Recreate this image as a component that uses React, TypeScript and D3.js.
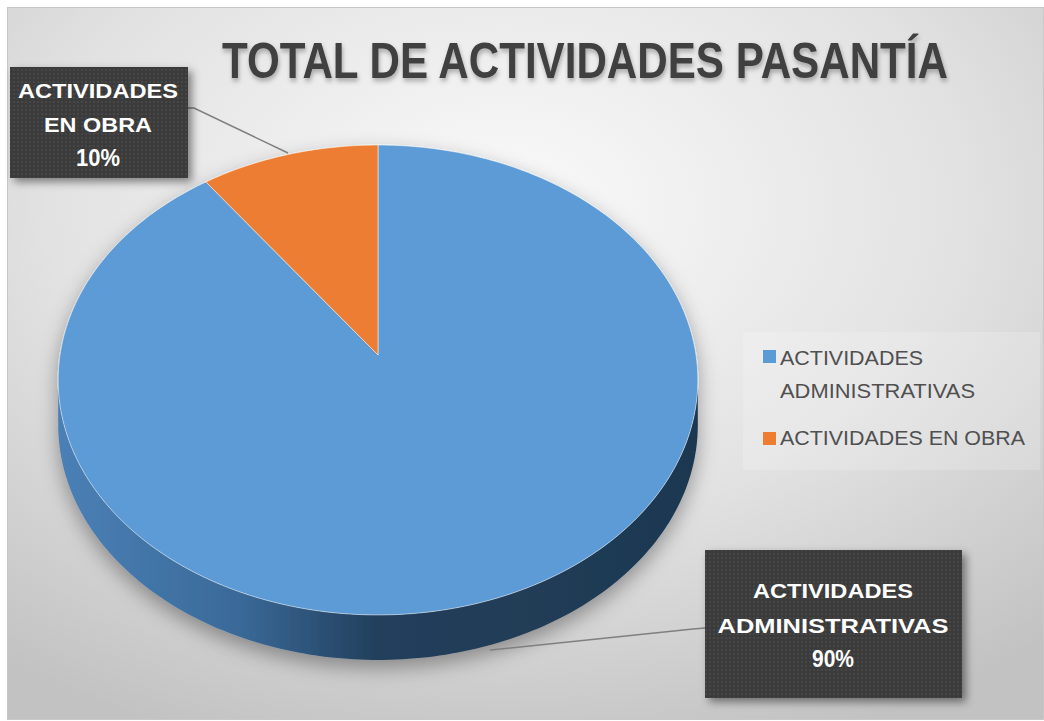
import React from "react";
import * as d3 from "d3";

const categories = ["ACTIVIDADES ADMINISTRATIVAS", "ACTIVIDADES EN OBRA"];
const values = [90, 10];
const colors = ["#5B9BD5", "#ED7D31"];
const labelLines = [
  ["ACTIVIDADES", "ADMINISTRATIVAS", "90%"],
  ["ACTIVIDADES", "EN OBRA", "10%"],
];
const legendLines = [["ACTIVIDADES", "ADMINISTRATIVAS"], ["ACTIVIDADES EN OBRA"]];
const title = "TOTAL DE ACTIVIDADES PASANTÍA";

const W = 1044;
const H = 721;
const CX = 378;
const CY = 355;
const A = 318;
const B = 232.3;
const K = 0.1064;
const DEPTH = 45;

function proj(angle: number): [number, number] {
  const u = Math.sin(angle);
  const v = -Math.cos(angle);
  const w = 1 - K * v;
  return [CX + (A * u) / w, CY + (B * v) / w];
}

function slicePath(a0: number, a1: number): string {
  const p = d3.path();
  p.moveTo(CX, CY);
  const n = Math.max(4, Math.ceil(((a1 - a0) / (2 * Math.PI)) * 360));
  for (let i = 0; i <= n; i++) {
    const [x, y] = proj(a0 + ((a1 - a0) * i) / n);
    p.lineTo(x, y);
  }
  p.closePath();
  return p.toString();
}

function sidePath(): string {
  const pts: [number, number][] = [];
  for (let i = 0; i <= 360; i++) pts.push(proj((i / 360) * 2 * Math.PI));
  let minI = 0;
  let maxI = 0;
  pts.forEach((q, i) => {
    if (q[0] < pts[minI][0]) minI = i;
    if (q[0] > pts[maxI][0]) maxI = i;
  });
  const p = d3.path();
  const front: [number, number][] = [];
  for (let i = maxI; i <= minI; i++) front.push(pts[i]);
  p.moveTo(front[0][0], front[0][1]);
  front.forEach((q) => p.lineTo(q[0], q[1]));
  for (let i = front.length - 1; i >= 0; i--) p.lineTo(front[i][0], front[i][1] + DEPTH);
  p.closePath();
  return p.toString();
}

const pie = d3
  .pie<number>()
  .sort(null)
  .startAngle(0)
  .endAngle(2 * Math.PI);

export default function App() {
  const arcs = pie(values);
  const font = "'Liberation Sans', Arial, sans-serif";

  const boxes = [
    { x: 705, y: 550, w: 257, h: 148, cx: 833, base: [598, 633, 667], widths: [160, 231, 42], leader: [[705, 628], [693, 629], [490, 650]] },
    { x: 10, y: 67, w: 178, h: 111, cx: 98, base: [98, 132, 166], widths: [160, 108, 44], leader: [[188, 108], [194, 108], [288, 153]] },
  ];

  const legendY = [[365, 398], [445]];
  const legendW = [[143, 195], [245]];
  const legendSq = [350, 432];

  return (
    <svg width={W} height={H} style={{ position: "absolute", left: 0, top: 0 }} fontFamily={font}>
      <defs>
        <radialGradient id="bg" cx="48%" cy="28%" r="80%">
          <stop offset="0%" stopColor="#fafafa" />
          <stop offset="55%" stopColor="#e2e2e2" />
          <stop offset="100%" stopColor="#c2c2c2" />
        </radialGradient>
        <linearGradient id="side" x1="0" x2="1" y1="0" y2="0">
          <stop offset="0%" stopColor="#4b80b6" />
          <stop offset="28%" stopColor="#3a6a99" />
          <stop offset="50%" stopColor="#223f5c" />
          <stop offset="100%" stopColor="#1e3851" />
        </linearGradient>
        <pattern id="dots" width="4" height="4" patternUnits="userSpaceOnUse">
          <rect width="4" height="4" fill="#3b3b3b" />
          <circle cx="2" cy="2" r="1" fill="#4a4a4a" />
        </pattern>
        <filter id="pieShadow" x="-20%" y="-20%" width="140%" height="140%">
          <feDropShadow dx="0" dy="8" stdDeviation="10" floodColor="#000" floodOpacity="0.35" />
        </filter>
        <filter id="boxShadow" x="-20%" y="-20%" width="140%" height="140%">
          <feDropShadow dx="4" dy="4" stdDeviation="4" floodColor="#000" floodOpacity="0.45" />
        </filter>
        <filter id="titleShadow" x="-10%" y="-30%" width="120%" height="170%">
          <feDropShadow dx="1" dy="2.5" stdDeviation="2" floodColor="#000" floodOpacity="0.3" />
        </filter>
      </defs>

      <rect x={0} y={0} width={W} height={H} fill="#ffffff" />
      <rect x={7} y={7} width={W - 7} height={H - 8} fill="url(#bg)" />
      <rect x={7.5} y={7.5} width={W - 8} height={H - 9} fill="none" stroke="#c8c8c8" strokeWidth={1} />

      <text
        transform="translate(585,78) scale(1,1.25)"
        textAnchor="middle"
        fontSize={40}
        fontWeight="bold"
        fill="#404040"
        textLength={726}
        lengthAdjust="spacingAndGlyphs"
        filter="url(#titleShadow)"
      >
        {title}
      </text>

      <rect x={743} y={332} width={297} height={138} fill="#ffffff" opacity={0.18} />
      {legendLines.map((lines, i) => (
        <g key={categories[i]}>
          <rect x={763} y={legendSq[i]} width={13} height={13} fill={colors[i]} />
          {lines.map((t, j) => (
            <text
              key={j}
              x={780}
              y={legendY[i][j]}
              fontSize={21}
              fill="#505050"
              textLength={legendW[i][j]}
              lengthAdjust="spacingAndGlyphs"
            >
              {t}
            </text>
          ))}
        </g>
      ))}

      <g filter="url(#pieShadow)">
        <path d={sidePath()} fill="url(#side)" />
        {arcs.map((a, i) => (
          <path
            key={i}
            d={slicePath(a.startAngle, a.endAngle)}
            fill={colors[i]}
            stroke="#ffffff"
            strokeOpacity={0.5}
            strokeWidth={1}
          />
        ))}
      </g>

      {boxes.map((b, i) => (
        <g key={i}>
          <polyline points={b.leader.map((p) => p.join(",")).join(" ")} fill="none" stroke="#7f7f7f" strokeWidth={1.5} />
          <rect x={b.x} y={b.y} width={b.w} height={b.h} fill="url(#dots)" filter="url(#boxShadow)" />
          {labelLines[i].map((t, j) => (
            <text
              key={j}
              x={b.cx}
              y={b.base[j]}
              textAnchor="middle"
              fontSize={j === 2 ? 23 : 21}
              fontWeight="bold"
              fill="#ffffff"
              textLength={b.widths[j]}
              lengthAdjust="spacingAndGlyphs"
            >
              {t}
            </text>
          ))}
        </g>
      ))}
    </svg>
  );
}
